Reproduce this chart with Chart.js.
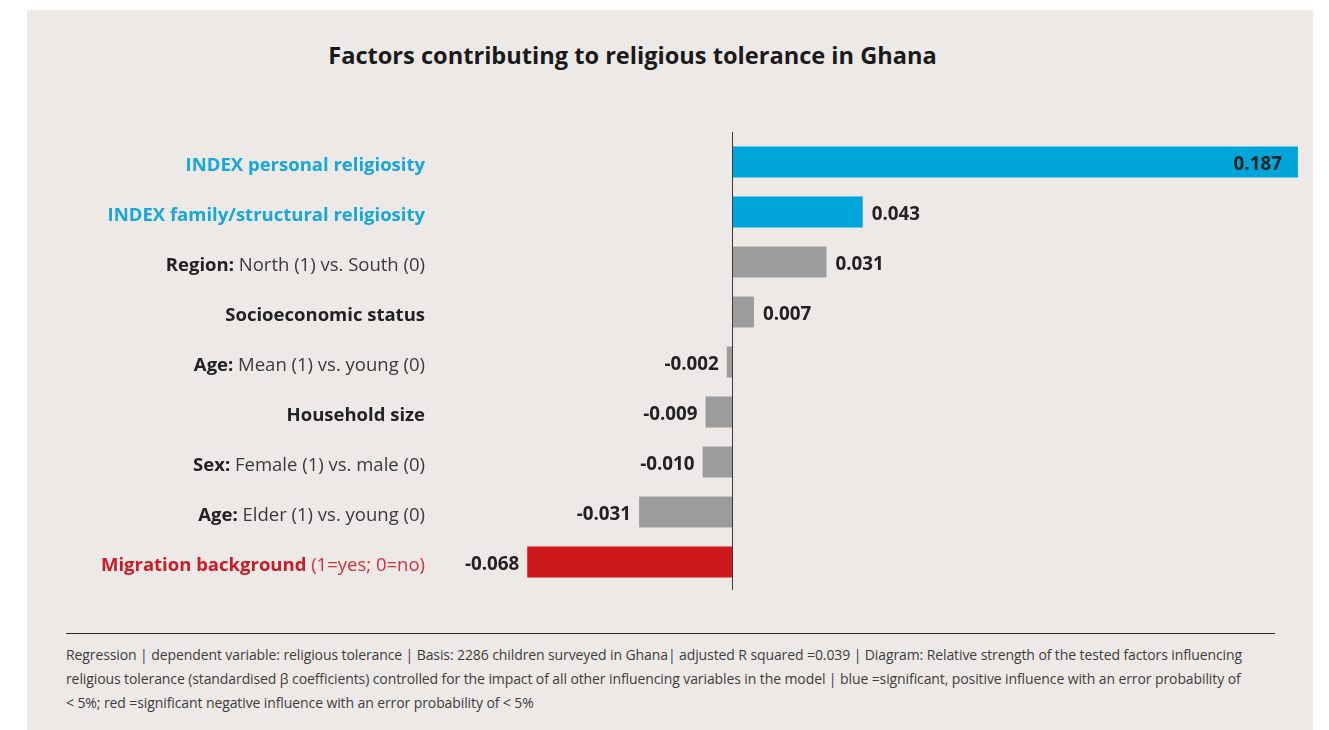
<!DOCTYPE html>
<html>
<head>
<meta charset="utf-8">
<script src="https://cdn.jsdelivr.net/npm/chart.js@4.4.1/dist/chart.umd.min.js"></script>
<style>
  html, body { margin:0; padding:0; background:#ffffff; }
  #wrap { position:relative; width:1329px; height:730px; overflow:hidden; }
  #panel { position:absolute; left:27px; top:10px; width:1286px; height:720px; background:#ede9e6; }
  #title { position:absolute; left:200px; width:865px; top:39px; text-align:center;
           font-family:"Open Sans", sans-serif; font-weight:700; font-size:23.6px; color:#1a1a1a; letter-spacing:0px; }
  #rule { position:absolute; left:66px; top:633px; width:1209px; height:1px; background:#2a2a2a; }
  #note { position:absolute; left:66px; top:643px; font-family:"Open Sans", sans-serif; font-size:14px;
          line-height:24px; color:#3d3d3d; white-space:nowrap; letter-spacing:-0.1px; }
  canvas { position:absolute; left:0; top:0; }
</style>
</head>
<body>
<div id="wrap">
  <div id="panel"></div>
  <div id="title">Factors contributing to religious tolerance in Ghana</div>
  <div id="rule"></div>
  <div id="note">Regression | dependent variable: religious tolerance | Basis: 2286 children surveyed in Ghana| adjusted R squared =0.039 | Diagram: Relative strength of the tested factors influencing<br>religious tolerance (standardised β coefficients) controlled for the impact of all other influencing variables in the model | blue =significant, positive influence with an error probability of<br>&lt; 5%; red =significant negative influence with an error probability of &lt; 5%</div>
  <canvas id="c" width="1329" height="730"></canvas>
</div>
<script>
// ---- data ----
const labelMain = [
  "INDEX personal religiosity",
  "INDEX family/structural religiosity",
  "Region:",
  "Socioeconomic status",
  "Age:",
  "Household size",
  "Sex:",
  "Age:",
  "Migration background"
];
const labelDetail = [
  "",
  "",
  " North (1) vs. South (0)",
  "",
  " Mean (1) vs. young (0)",
  "",
  " Female (1) vs. male (0)",
  " Elder (1) vs. young (0)",
  " (1=yes; 0=no)"
];
const values = [0.187, 0.043, 0.031, 0.007, -0.002, -0.009, -0.010, -0.031, -0.068];
const significance = ["pos", "pos", "ns", "ns", "ns", "ns", "ns", "ns", "neg"];
const xMin = -0.08, xMax = 0.19;

// ---- styles ----
const barColor = { pos: "#00a6da", ns: "#9d9c9c", neg: "#cc171b" };
const mainColor = { pos: "#16a7dc", ns: "#222222", neg: "#cc1b24" };
const detailColor = { pos: "#16a7dc", ns: "#3a3a3a", neg: "#d0343b" };
const FONT = '"Open Sans", sans-serif';

const labelPlugin = {
  id: "richLabels",
  afterDatasetsDraw(chart) {
    const ctx = chart.ctx;
    const xs = chart.scales.x, ys = chart.scales.y;
    const x0 = xs.getPixelForValue(0);
    // zero axis line
    ctx.save();
    ctx.strokeStyle = "#3a3a3a";
    ctx.lineWidth = 1;
    ctx.beginPath();
    ctx.moveTo(Math.round(x0) - 0.5, chart.chartArea.top - 5);
    ctx.lineTo(Math.round(x0) - 0.5, chart.chartArea.bottom + 3);
    ctx.stroke();
    ctx.textBaseline = "middle";
    const labelRight = 425;
    labelMain.forEach((m, i) => {
      const y = ys.getPixelForValue(i) + 4;
      const g = significance[i];
      ctx.font = "400 18.5px " + FONT;
      const dW = labelDetail[i] ? ctx.measureText(labelDetail[i]).width : 0;
      ctx.font = "700 18.5px " + FONT;
      const mW = ctx.measureText(m).width;
      let x = labelRight - dW - mW;
      ctx.textAlign = "left";
      ctx.fillStyle = mainColor[g];
      ctx.fillText(m, x, y);
      if (labelDetail[i]) {
        ctx.font = "400 18.5px " + FONT;
        ctx.fillStyle = detailColor[g];
        ctx.fillText(labelDetail[i], x + mW, y);
      }
      // value labels
      const v = values[i];
      const xv = xs.getPixelForValue(v);
      const txt = v.toFixed(3);
      ctx.font = "700 18.8px " + FONT;
      ctx.fillStyle = "#222222";
      const yv = ys.getPixelForValue(i) + 3;
      if (v >= 0.1) {
        ctx.textAlign = "right";
        ctx.fillText(txt, xv - 16, yv);
      } else if (v >= 0) {
        ctx.textAlign = "left";
        ctx.fillText(txt, xv + 9, yv);
      } else {
        ctx.textAlign = "right";
        ctx.fillText(txt, xv - 8, yv);
      }
    });
    ctx.restore();
  }
};

new Chart(document.getElementById("c"), {
  type: "bar",
  data: {
    labels: labelMain.map((m, i) => m + labelDetail[i]),
    datasets: [{
      data: values,
      backgroundColor: significance.map(g => barColor[g]),
      borderWidth: 0,
      categoryPercentage: 1,
      barPercentage: 0.62
    }]
  },
  options: {
    indexAxis: "y",
    responsive: false,
    animation: false,
    layout: { padding: { left: 491, right: 22, top: 137, bottom: 143 } },
    plugins: { legend: { display: false }, tooltip: { enabled: false } },
    scales: {
      x: { display: false, min: xMin, max: xMax },
      y: { display: false }
    }
  },
  plugins: [labelPlugin]
});
</script>
</body>
</html>
